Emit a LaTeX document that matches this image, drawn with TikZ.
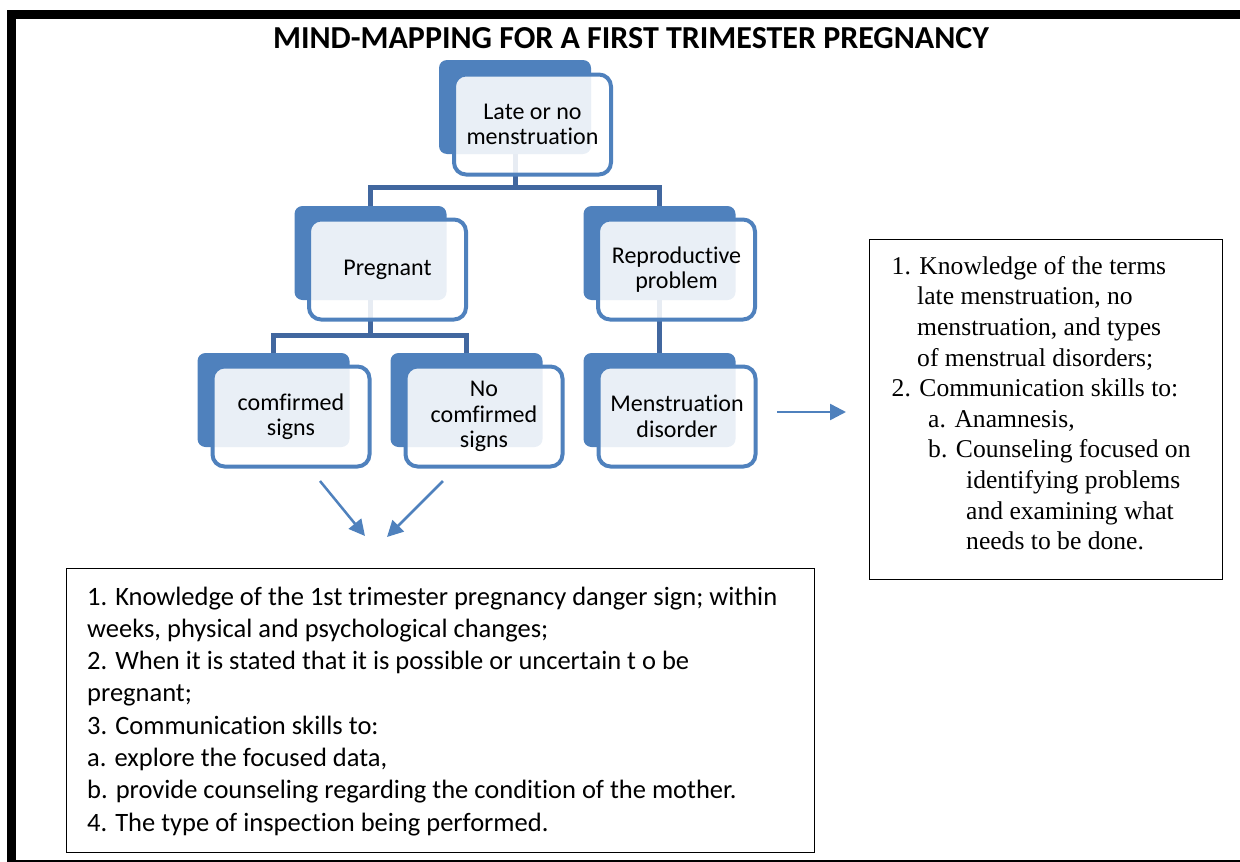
\documentclass[tikz,border=0pt]{standalone}
\usepackage{fontspec}
\setmainfont{Carlito}[Ligatures=NoCommon]
\newfontfamily\timesf{Liberation Serif}
\usetikzlibrary{arrows.meta,calc}
\definecolor{sablue}{HTML}{4F81BD}
\definecolor{conncol}{HTML}{41679F}
\begin{document}
\begin{tikzpicture}[x=1pt,y=-1pt,
  backbox/.style={rectangle, rounded corners=8pt, fill=sablue, minimum width=152pt, minimum height=94pt, inner sep=0pt},
  frontbox/.style={rectangle, rounded corners=12pt, draw=sablue, line width=4pt, fill=white, fill opacity=0.88, text opacity=1, draw opacity=1, minimum width=157pt, minimum height=100pt, inner sep=0pt, align=center, font=\fontsize{24}{25.5}\selectfont},
  conn/.style={draw=conncol, line width=5pt},
  arr/.style={draw=sablue, line width=2.5pt, -{Triangle[length=16pt,width=16pt]}},
  textbox/.style={draw=black, line width=1.2pt, inner sep=0pt},
  bline/.style={anchor=base west, inner sep=0pt, font=\fontsize{26.5}{32}\selectfont},
  rline/.style={anchor=base west, inner sep=0pt, font=\timesf\fontsize{25.6}{30}\selectfont},
]
\useasboundingbox (0,0) rectangle (1240,862);
% page frame
\fill[black] (7,10) rectangle (1240,19);
\fill[black] (7,10) rectangle (16,862);
\draw[black, line width=1.5pt] (7,861) -- (1240,861);

% title
\node[font=\bfseries\fontsize{32}{36}\selectfont, anchor=base, inner sep=0pt] (title) at (631,48.5) {MIND-MAPPING FOR A FIRST TRIMESTER PREGNANCY};

% back boxes
\node[backbox] (topB) at (515,107) {};
\node[backbox] (pregB) at (370.5,253) {};
\node[backbox] (reprB) at (659.5,253) {};
\node[backbox] (confB) at (273.5,400) {};
\node[backbox] (nconfB) at (466.5,400) {};
\node[backbox] (menB) at (659.5,400) {};

% connectors
\coordinate (h1) at (0,187);
\coordinate (h2) at (0,335);
\draw[conn] (topB.south) -- (topB.south |- h1);
\draw[conn] (pregB.north) |- (reprB.north |- h1) -- (reprB.north);
\draw[conn] (pregB.south) -- (pregB.south |- h2);
\draw[conn] (confB.north) |- (nconfB.north |- h2) -- (nconfB.north);
\draw[conn] (reprB.south) -- (menB.north);

% front boxes
\node[frontbox] (top) at ($(topB)+(17.5,17.5)$) {Late or no\\menstruation};
\node[frontbox] (preg) at ($(pregB)+(17,16.5)$) {Pregnant};
\node[frontbox] (repr) at ($(reprB)+(17,16.5)$) {Reproductive\\problem};
\node[frontbox] (conf) at ($(confB)+(17.5,16.5)$) {comfirmed\\signs};
\node[frontbox] (nconf) at ($(nconfB)+(17.5,16.5)$) {No\\comfirmed\\signs};
\node[frontbox] (men) at ($(menB)+(17.5,16.5)$) {Menstruation\\disorder};

% arrows
\coordinate (a1s) at (320,481);
\coordinate (a1e) at (365,536);
\coordinate (a2s) at (443,481);
\coordinate (a2e) at (387,537);
\coordinate (a3s) at (777,412);
\coordinate (a3e) at (846,412);
\draw[arr] (a1s) -- (a1e);
\draw[arr] (a2s) -- (a2e);
\draw[arr] (a3s) -- (a3e);

% bottom text box
\node[textbox, anchor=north west, minimum width=748pt, minimum height=284pt] (bbox) at (66,568) {};
\node[bline] (b1) at (87,605) {1. Knowledge of the 1st trimester pregnancy danger sign; within};
\node[bline] (b2) at (87,637.3) {weeks, physical and psychological changes;};
\node[bline] (b3) at (87,669.6) {2. When it is stated that it is possible or uncertain t o be};
\node[bline] (b4) at (87,701.9) {pregnant;};
\node[bline] (b5) at (87,734.2) {3. Communication skills to:};
\node[bline] (b6) at (87,766.5) {a. explore the focused data,};
\node[bline] (b7) at (87,798.8) {b. provide counseling regarding the condition of the mother.};
\node[bline] (b8) at (87,831.1) {4. The type of inspection being performed.};

% right text box
\node[textbox, anchor=north west, minimum width=353pt, minimum height=340pt] (rbox) at (869,239) {};
\node[rline] (r1) at (891.5,274.3) {1. Knowledge of the terms};
\node[rline] (r2) at (917,304.9) {late menstruation, no};
\node[rline] (r3) at (917,335.5) {menstruation, and types};
\node[rline] (r4) at (917,366.1) {of menstrual disorders;};
\node[rline] (r5) at (891.5,396.7) {2. Communication skills to:};
\node[rline] (r6) at (928,427.3) {a. Anamnesis,};
\node[rline] (r7) at (928,457.9) {b. Counseling focused on};
\node[rline] (r8) at (966,488.5) {identifying problems};
\node[rline] (r9) at (966,519.1) {and examining what};
\node[rline] (r10) at (966,549.7) {needs to be done.};
\end{tikzpicture}
\end{document}
